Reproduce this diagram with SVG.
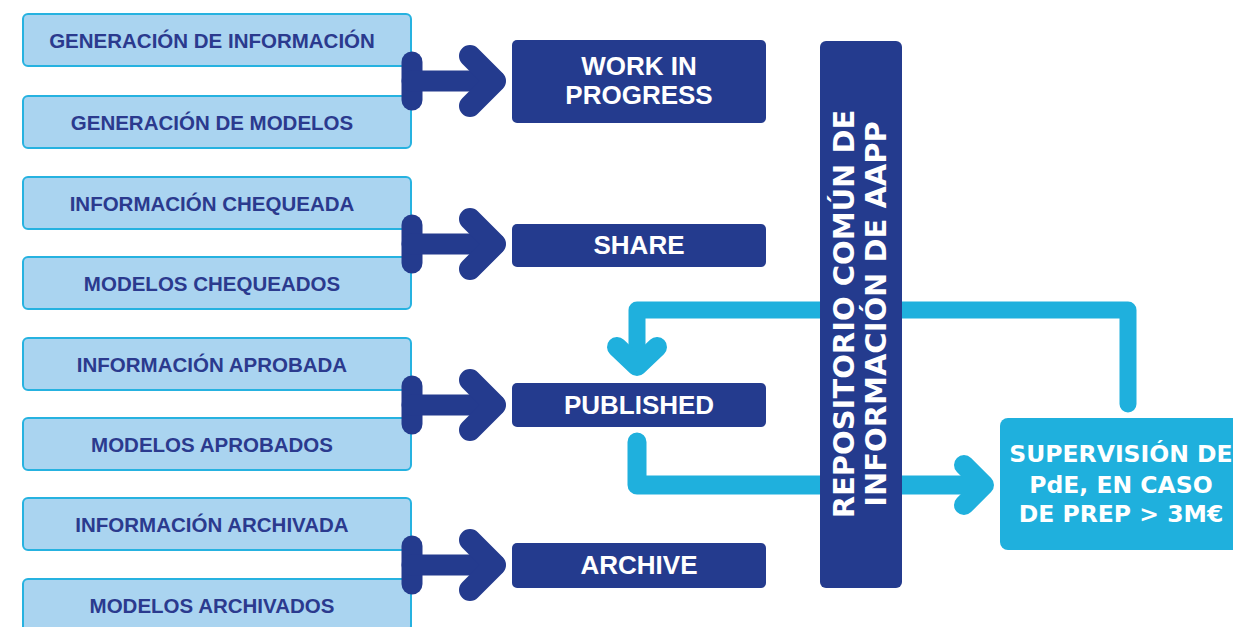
<svg xmlns="http://www.w3.org/2000/svg" width="1233" height="627" viewBox="0 0 1233 627">
  <defs>
    <style>
      .src rect { fill: #aad4f0; stroke: #26b2e0; stroke-width: 2; }
      .src text { font-family: "Liberation Sans", Arial, sans-serif; font-weight: bold; font-size: 20.5px; fill: #2b3a8e; text-anchor: middle; }
      .stage rect { fill: #243b8e; }
      .stage text { font-family: "Liberation Sans", Arial, sans-serif; font-weight: bold; font-size: 26px; fill: #ffffff; text-anchor: middle; }
      .bracket { fill: none; stroke: #243b8e; stroke-linecap: round; stroke-linejoin: round; }
      .flow { fill: none; stroke: #1fb0dd; stroke-linecap: round; stroke-linejoin: round; }
      .wide { font-family: "DejaVu Sans", Verdana, sans-serif; font-weight: bold; fill: #ffffff; text-anchor: middle; }
    </style>
  </defs>

  <rect width="1233" height="627" fill="#ffffff"/>

  <!-- source boxes -->
  <g id="gen-info" class="src"><rect x="23" y="14" width="388" height="52" rx="5"/><text x="212" y="48">GENERACIÓN DE INFORMACIÓN</text></g>
  <g id="gen-models" class="src"><rect x="23" y="96" width="388" height="52" rx="5"/><text x="212" y="130">GENERACIÓN DE MODELOS</text></g>
  <g id="info-checked" class="src"><rect x="23" y="177" width="388" height="52" rx="5"/><text x="212" y="211">INFORMACIÓN CHEQUEADA</text></g>
  <g id="models-checked" class="src"><rect x="23" y="257" width="388" height="52" rx="5"/><text x="212" y="291">MODELOS CHEQUEADOS</text></g>
  <g id="info-approved" class="src"><rect x="23" y="338" width="388" height="52" rx="5"/><text x="212" y="372">INFORMACIÓN APROBADA</text></g>
  <g id="models-approved" class="src"><rect x="23" y="418" width="388" height="52" rx="5"/><text x="212" y="452">MODELOS APROBADOS</text></g>
  <g id="info-archived" class="src"><rect x="23" y="498" width="388" height="52" rx="5"/><text x="212" y="532">INFORMACIÓN ARCHIVADA</text></g>
  <g id="models-archived" class="src"><rect x="23" y="579" width="388" height="52" rx="5"/><text x="212" y="613">MODELOS ARCHIVADOS</text></g>

  <!-- connectors -->
  <g id="connectors">
    <!-- bracket arrows: sources to stages -->
    <g class="bracket">
      <path d="M412 62 V100" stroke-width="21"/><path d="M412 81 H495" stroke-width="21"/><path d="M470 56 L495 81 L470 106" stroke-width="22"/>
      <path d="M412 225 V263" stroke-width="21"/><path d="M412 244 H495" stroke-width="21"/><path d="M470 219 L495 244 L470 269" stroke-width="22"/>
      <path d="M412 386 V424" stroke-width="21"/><path d="M412 405 H495" stroke-width="21"/><path d="M470 380 L495 405 L470 430" stroke-width="22"/>
      <path d="M412 546 V584" stroke-width="21"/><path d="M412 565 H495" stroke-width="21"/><path d="M470 540 L495 565 L470 590" stroke-width="22"/>
    </g>
    <!-- supervision feedback into published -->
    <g class="flow">
      <path d="M1128 404 V310 H637 V360" stroke-width="17"/>
      <path d="M617 347 L637 366 L657 347" stroke-width="20"/>
      <!-- published to supervision -->
      <path d="M637 442 V485 H982" stroke-width="19"/>
      <path d="M964 465 L984 485 L964 505" stroke-width="20"/>
    </g>
  </g>

  <!-- stage boxes -->
  <g id="work-in-progress" class="stage"><rect x="512" y="40" width="254" height="83" rx="5"/><text x="639" y="75">WORK IN</text><text x="639" y="104">PROGRESS</text></g>
  <g id="share" class="stage"><rect x="512" y="224" width="254" height="43" rx="5"/><text x="639" y="254">SHARE</text></g>
  <g id="published" class="stage"><rect x="512" y="383" width="254" height="44" rx="5"/><text x="639" y="414">PUBLISHED</text></g>
  <g id="archive" class="stage"><rect x="512" y="543" width="254" height="45" rx="5"/><text x="639" y="574">ARCHIVE</text></g>

  <!-- shared repository column -->
  <g id="repository">
    <rect x="820" y="41" width="82" height="547" rx="6" fill="#243b8e"/>
    <g transform="translate(860 314) rotate(-90)">
      <text class="wide" x="0" y="-6" font-size="29">REPOSITORIO COMÚN DE</text>
      <text class="wide" x="0" y="26" font-size="29">INFORMACIÓN DE AAPP</text>
    </g>
  </g>

  <!-- supervision box -->
  <g id="supervision">
    <rect x="1000" y="418" width="260" height="132" rx="8" fill="#1fb0dd"/>
    <text class="wide" x="1121" y="462" font-size="23.5">SUPERVISIÓN DE</text>
    <text class="wide" x="1121" y="493" font-size="23.5">PdE, EN CASO</text>
    <text class="wide" x="1121" y="522" font-size="23.5">DE PREP &gt; 3M€</text>
  </g>
</svg>
